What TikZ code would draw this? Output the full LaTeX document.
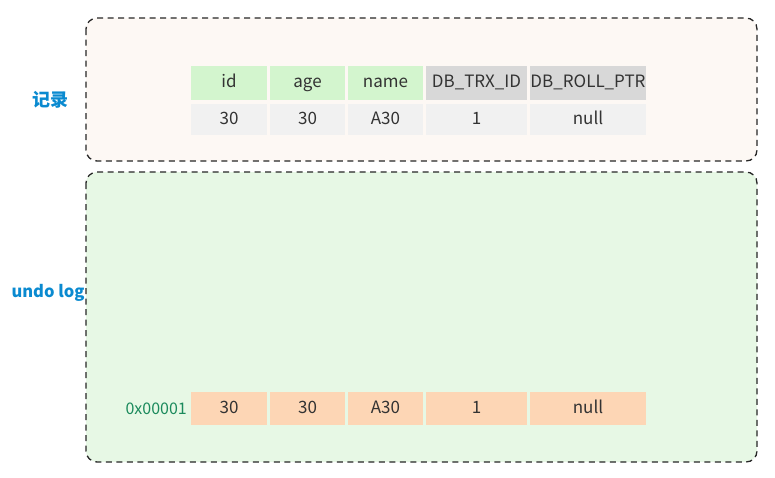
\documentclass[tikz,border=0pt]{standalone}
\usepackage{fontspec}
\setmainfont{Noto Sans CJK SC}
\usetikzlibrary{positioning}
\definecolor{recFill}{HTML}{FDF8F4}
\definecolor{undoFill}{HTML}{E7F8E5}
\definecolor{headGreen}{HTML}{D3F5CE}
\definecolor{headGray}{HTML}{D8D8D8}
\definecolor{rowGray}{HTML}{F1F1F1}
\definecolor{undoCell}{HTML}{FDD6B5}
\definecolor{labBlue}{HTML}{0A8AD0}
\definecolor{addrGreen}{HTML}{1B8A5C}
\tikzset{
    Area/.style = {
        draw=black!85, line width=1.3pt, dash pattern=on 6pt off 4.5pt,
        rounded corners=11pt, fill=#1
    },
    Cell/.style = {
        fill=#1, inner sep=0pt, outer sep=0pt,
        minimum height=33pt, font=\fontsize{17}{20}\selectfont,
        text height=12pt, text depth=3pt, text=black!80
    },
    Cell/.default={rowGray},
    Side/.style = {
        font=\fontsize{16.5}{20}\selectfont\bfseries, text=labBlue
    }
}

\begin{document}
\begin{tikzpicture}[x=1pt, y=-1pt, node distance=3pt]
    \useasboundingbox (0,0) rectangle (775,477);
    \draw [Area=recFill] (86,18) rectangle (757,161);
    \draw [Area=undoFill] (86,172) rectangle (757,462);

    \node[Side, font=\fontsize{18}{20}\selectfont\bfseries] (rec) at (50,100) {记录};
    \node[Side] (undo) at (48,293) {undo log};

    % record header
    \node[Cell=headGreen, minimum width=76pt, minimum height=34pt] (hid) at (229,83) {id};
    \node[Cell=headGreen, minimum width=75pt, minimum height=34pt, right=of hid] (hage) {age};
    \node[Cell=headGreen, minimum width=75pt, minimum height=34pt, right=of hage] (hname) {name};
    \node[Cell=headGray, minimum width=101pt, minimum height=34pt, right=of hname] (htrx) {DB\_TRX\_ID};
    \node[Cell=headGray, minimum width=116pt, minimum height=34pt, right=of htrx] (hroll) {DB\_ROLL\_PTR};
    % record values
    \node[Cell, minimum width=76pt, minimum height=31pt, below=4pt of hid] (rid) {30};
    \node[Cell, minimum width=75pt, minimum height=31pt, below=4pt of hage] (rage) {30};
    \node[Cell, minimum width=75pt, minimum height=31pt, below=4pt of hname] (rname) {A30};
    \node[Cell, minimum width=101pt, minimum height=31pt, below=4pt of htrx] (rtrx) {1};
    \node[Cell, minimum width=116pt, minimum height=31pt, below=4pt of hroll] (rroll) {null};

    % undo log entry
    \node[Cell=undoCell, minimum width=76pt] (uid) at (229,408.5) {30};
    \node[Cell=undoCell, minimum width=75pt, right=of uid] (uage) {30};
    \node[Cell=undoCell, minimum width=75pt, right=of uage] (uname) {A30};
    \node[Cell=undoCell, minimum width=101pt, right=of uname] (utrx) {1};
    \node[Cell=undoCell, minimum width=116pt, right=of utrx] (uroll) {null};
    \node[left=4pt of uid, inner sep=0pt, text=addrGreen, font=\fontsize{16}{18}\selectfont] (addr) {0x00001};
\end{tikzpicture}
\end{document}
